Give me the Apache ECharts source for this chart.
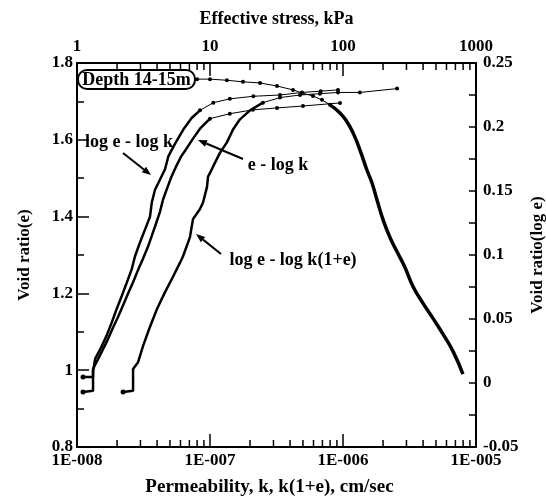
<!DOCTYPE html>
<html><head><meta charset="utf-8">
<script src="https://cdn.jsdelivr.net/npm/echarts@6/dist/echarts.min.js"></script>
<style>html,body{margin:0;padding:0;background:#fff}#c{width:546px;height:499px}</style>
</head><body><div id="c"></div>
<script>
// ---- tick labels ----
const bottomTickValues = [1e-8, 1e-7, 1e-6, 1e-5];
const bottomTickLabels = ['1E-008', '1E-007', '1E-006', '1E-005'];
const topTickValues = [1, 10, 100, 1000];
const topTickLabels = ['1', '10', '100', '1000'];
const bottomMinorTicks = [2e-8,3e-8,4e-8,5e-8,6e-8,7e-8,8e-8,9e-8, 2e-7,3e-7,4e-7,5e-7,6e-7,7e-7,8e-7,9e-7, 2e-6,3e-6,4e-6,5e-6,6e-6,7e-6,8e-6,9e-6];
const topMinorTicks = [2,3,4,5,6,7,8,9, 20,30,40,50,60,70,80,90, 200,300,400,500,600,700,800,900];

// ---- compression curve: effective stress (kPa) vs void ratio e ----
const compressionDotted = [[8.0,1.758],[10.0,1.758],[13.4,1.755],[17.7,1.751],[23.8,1.748],[31.9,1.740],[42.1,1.730],[49.2,1.722],[59.5,1.714],[69.5,1.704],[79.8,1.691]];
const compressionSolid = [[79.8,1.691],[94.9,1.670],[107,1.647],[119,1.618],[134,1.574],[151,1.522],[165,1.488],[180,1.444],[200,1.392],[226,1.345],[259,1.304],[292,1.268],[336,1.218],[400,1.174],[475,1.135],[565,1.094],[672,1.049],[798,0.990]];

// ---- log e - log k (right axis) ----
const logELogK = [[1.11e-8,-0.007],[1.32e-8,-0.006],[1.32e-8,0.009],[1.37e-8,0.019],[1.49e-8,0.026],[1.67e-8,0.037],[1.82e-8,0.047],[1.99e-8,0.058],[2.17e-8,0.068],[2.36e-8,0.078],[2.58e-8,0.089],[2.73e-8,0.099],[2.98e-8,0.110],[3.25e-8,0.120],[3.54e-8,0.130],[3.65e-8,0.141],[3.86e-8,0.151],[4.21e-8,0.159],[4.59e-8,0.167],[4.86e-8,0.177],[5.46e-8,0.187],[6.30e-8,0.198],[7.28e-8,0.207],[8.41e-8,0.213]];
const logELogKTail = [[8.41e-8,0.213],[1.06e-7,0.219],[1.41e-7,0.222],[2.12e-7,0.224],[3.36e-7,0.225],[4.92e-7,0.227],[6.8e-7,0.228],[9.17e-7,0.229]];

// ---- e - log k (left axis) ----
const eLogK = [[1.11e-8,0.982],[1.32e-8,0.982],[1.32e-8,1.003],[1.41e-8,1.023],[1.54e-8,1.049],[1.71e-8,1.081],[1.87e-8,1.112],[2.03e-8,1.138],[2.22e-8,1.169],[2.42e-8,1.200],[2.64e-8,1.229],[2.87e-8,1.260],[3.14e-8,1.291],[3.42e-8,1.322],[3.66e-8,1.351],[3.93e-8,1.382],[4.21e-8,1.413],[4.43e-8,1.444],[4.75e-8,1.473],[5.09e-8,1.501],[5.55e-8,1.530],[6.05e-8,1.556],[6.71e-8,1.579],[7.45e-8,1.603],[8.41e-8,1.629],[1.0e-7,1.655]];
const eLogKTail = [[1.0e-7,1.655],[1.41e-7,1.668],[2.10e-7,1.678],[3.19e-7,1.683],[5.0e-7,1.688],[9.5e-7,1.696]];

// ---- log e - log k(1+e) (right axis) ----
const logELogK1e = [[2.22e-8,-0.007],[2.64e-8,-0.006],[2.64e-8,0.011],[2.87e-8,0.016],[3.14e-8,0.029],[3.54e-8,0.044],[4.0e-8,0.058],[4.59e-8,0.071],[5.27e-8,0.083],[5.95e-8,0.094],[6.27e-8,0.099],[7.07e-8,0.114],[7.45e-8,0.128],[8.41e-8,0.136],[8.86e-8,0.141],[9.49e-8,0.153],[9.66e-8,0.161],[1.054e-7,0.169],[1.19e-7,0.180],[1.34e-7,0.188],[1.49e-7,0.198],[1.68e-7,0.206],[2.0e-7,0.213],[2.5e-7,0.219]];
const logELogK1eTail = [[2.5e-7,0.219],[3.36e-7,0.223],[4.75e-7,0.225],[6.71e-7,0.226],[9.17e-7,0.227],[1.34e-6,0.227],[2.55e-6,0.230]];

const FONT = '"Liberation Serif","Times New Roman",serif';
const TXT = {color:'#000', fontFamily:FONT, fontWeight:'bold', fontSize:17};
const NAME = {color:'#000', fontFamily:FONT, fontWeight:'bold', fontSize:18};
const BLACK = '#000';

function lookup(values, labels, v){
  for (let i=0;i<values.length;i++){ if (Math.abs(Math.log10(values[i]) - Math.log10(v)) < 0.01) return labels[i]; }
  return '';
}
function logAxis(pos, min, max, values, labels, name, gap, margin, nameStyle){
  return {
    type:'log', logBase:10, min:min, max:max, position:pos,
    name:name, nameLocation:'middle', nameGap:gap, nameTextStyle:Object.assign({}, NAME, nameStyle||{}),
    axisLine:{show:true, onZero:false, lineStyle:{color:BLACK, width:2}},
    axisTick:{show:true, inside:true, length:13, lineStyle:{color:BLACK, width:1.5}},
    minorTick:{show:false},
    axisLabel:Object.assign({show:true, margin:margin, showMinLabel:true, showMaxLabel:true,
      formatter:function(v){return lookup(values, labels, v);}}, TXT),
    splitLine:{show:false}, minorSplitLine:{show:false}
  };
}
function valAxis(pos, min, max, interval, name, gap, margin, majorLen){
  return {
    type:'value', min:min, max:max, interval:interval, position:pos,
    name:name, nameLocation:'middle', nameGap:gap, nameRotate:90, nameTextStyle:Object.assign({}, NAME, {fontSize:17}),
    axisLine:{show:true, onZero:false, lineStyle:{color:BLACK, width:2}},
    axisTick:{show:true, inside:true, length:majorLen, lineStyle:{color:BLACK, width:1.5}},
    minorTick:{show:true, splitNumber:2, length:7, lineStyle:{color:BLACK, width:1.5}},
    axisLabel:Object.assign({show:true, margin:margin, showMinLabel:true, showMaxLabel:true}, TXT),
    splitLine:{show:false}, minorSplitLine:{show:false}
  };
}
// minor ticks of a log axis, drawn at the axis' own scale positions
function minorTickSeries(values, xi, atTop){
  return {
    type:'custom', xAxisIndex:xi, yAxisIndex:0, silent:true, clip:false, z:5,
    data:values.map(function(v){ return [v, 1.3]; }),
    renderItem:function(params, api){
      const cs = params.coordSys;
      const x = api.coord([api.value(0), 1.3])[0];
      const y0 = atTop ? cs.y : cs.y + cs.height;
      const y1 = atTop ? y0 + 7 : y0 - 7;
      return {type:'line', shape:{x1:x, y1:y0, x2:x, y2:y1}, style:{stroke:BLACK, lineWidth:1.5}};
    }
  };
}
function body(data, xi, yi, w){
  return {type:'line', xAxisIndex:xi, yAxisIndex:yi, data:data, smooth:false,
    showSymbol:true, symbol:'circle',
    symbolSize:function(v, p){ return p.dataIndex === 0 ? 5 : 0; },
    itemStyle:{color:BLACK}, lineStyle:{color:BLACK, width:w}, silent:true, z:3};
}
function tail(data, xi, yi){
  return {type:'line', xAxisIndex:xi, yAxisIndex:yi, data:data, smooth:false,
    showSymbol:true, showAllSymbol:true, symbol:'circle', symbolSize:4,
    itemStyle:{color:BLACK}, lineStyle:{color:BLACK, width:1}, silent:true, z:3};
}
function arrow(x1,y1,x2,y2){
  const a = Math.atan2(y2-y1, x2-x1), L = 9, W = 3.5;
  const bx = x2 - L*Math.cos(a), by = y2 - L*Math.sin(a);
  const px = -Math.sin(a), py = Math.cos(a);
  return [
    {type:'line', shape:{x1:x1,y1:y1,x2:bx,y2:by}, style:{stroke:BLACK, lineWidth:2}, z:10},
    {type:'polygon', shape:{points:[[x2,y2],[bx+px*W,by+py*W],[bx-px*W,by-py*W]]}, style:{fill:BLACK}, z:10}
  ];
}
function label(text, x, y, size){
  return {type:'text', x:x, y:y, z:10, style:{text:text, fill:BLACK, align:'center', verticalAlign:'middle',
    font:'bold ' + (size||18) + 'px ' + FONT}};
}

const option = {
  animation:false,
  backgroundColor:'#fff',
  grid:{left:77, right:70, top:63, bottom:52, containLabel:false, outerBoundsMode:'none'},
  xAxis:[
    logAxis('bottom', 1e-8, 1e-5, bottomTickValues, bottomTickLabels, 'Permeability, k, k(1+e), cm/sec', 31, 5, {fontSize:19, padding:[0,14,0,0]}),
    logAxis('top', 1, 1000, topTickValues, topTickLabels, 'Effective stress, kPa', 35, 8)
  ],
  yAxis:[
    valAxis('left', 0.8, 1.8, 0.2, 'Void ratio(e)', 44, 4, 12),
    valAxis('right', -0.05, 0.25, 0.05, 'Void ratio(log e)', 49, 7, 7)
  ],
  series:[
    minorTickSeries(bottomMinorTicks, 0, false),
    minorTickSeries(topMinorTicks, 1, true),
    tail(compressionDotted, 1, 0),
    {type:'line', xAxisIndex:1, yAxisIndex:0, data:compressionSolid, showSymbol:false, smooth:true,
      lineStyle:{color:BLACK, width:3.5}, silent:true, z:3},
    body(logELogK, 0, 1, 2.5), tail(logELogKTail, 0, 1),
    body(eLogK, 0, 0, 2.5), tail(eLogKTail, 0, 0),
    body(logELogK1e, 0, 1, 2.5), tail(logELogK1eTail, 0, 1)
  ],
  graphic:[].concat(
    [{type:'rect', z:9, shape:{x:78, y:70, width:117, height:19, r:9}, style:{fill:'#fff', stroke:BLACK, lineWidth:2}},
     label('Depth 14-15m', 136.5, 80, 18),
     label('log e - log k', 129, 142),
     label('e - log k', 278, 165),
     label('log e - log k(1+e)', 293, 260)],
    arrow(123,153,151,175),
    arrow(243,159,198,140),
    arrow(221,254,196,234)
  )
};
const chart = echarts.init(document.getElementById('c'));
chart.setOption(option);
</script>
</body></html>
